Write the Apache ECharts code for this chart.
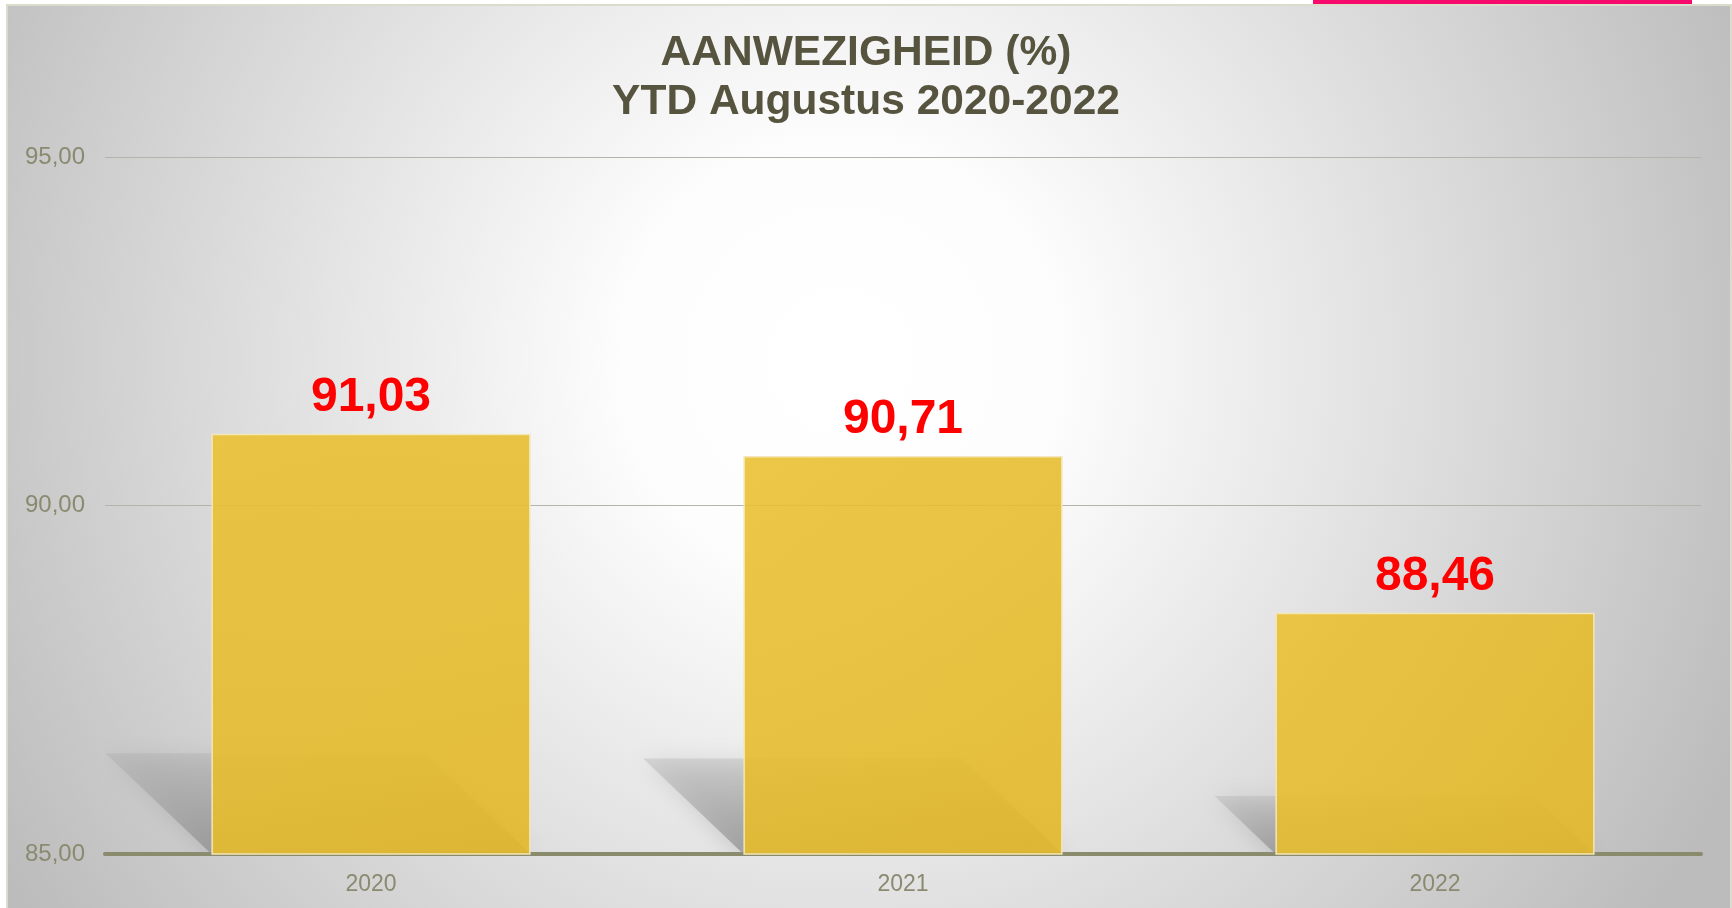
<!DOCTYPE html>
<html>
<head>
<meta charset="utf-8">
<script src="https://cdn.jsdelivr.net/npm/echarts@6/dist/echarts.min.js"></script>
<style>
  html, body { margin: 0; padding: 0; background: #ffffff; }
  #chart { width: 1732px; height: 908px; }
</style>
</head>
<body>
<div id="chart"></div>
<script>
// data
const years = ["2020", "2021", "2022"];
const presence = [91.03, 90.71, 88.46];
const yTicks = [85, 90, 95];

const fmt = (v) => v.toFixed(2).replace(".", ",");
const base = yTicks[0];

const chart = echarts.init(document.getElementById("chart"), null, { renderer: "canvas" });

// floor shadow drawn behind each bar (skewed copy of the bar)
function renderShadow(params, api) {
  const idx = api.value(0);
  const val = api.value(1);
  const size = api.size([1, 0]);
  const barW = size[0] * 0.6;
  const bottom = api.coord([idx, base]);
  const top = api.coord([idx, base + (val - base) * 0.24]);
  const h = bottom[1] - top[1];
  const dx = h * 1.05;
  const l = bottom[0] - barW / 2;
  const r = bottom[0] + barW / 2;
  return {
    type: "polygon",
    shape: {
      points: [
        [l - dx, top[1]],
        [r - dx, top[1]],
        [r, bottom[1]],
        [l, bottom[1]],
      ],
    },
    style: {
      fill: new echarts.graphic.LinearGradient(0, 0, 0, 1, [
        { offset: 0, color: "rgba(165,165,165,0.3)" },
        { offset: 1, color: "rgba(140,140,140,0.7)" },
      ]),
      shadowBlur: 22,
      shadowColor: "rgba(150,150,150,0.7)",
    },
    z2: 0,
  };
}

const option = {
  backgroundColor: "#ffffff",
  graphic: [
    {
      type: "rect",
      z: -10,
      shape: { x: 7, y: 5, width: 1724, height: 905 },
      style: {
        fill: new echarts.graphic.RadialGradient(840, 360, 980, [
          { offset: 0, color: "#ffffff" },
          { offset: 0.22, color: "#fdfdfd" },
          { offset: 0.55, color: "#e2e2e2" },
          { offset: 0.8, color: "#cdcdcd" },
          { offset: 1, color: "#bcbcbc" },
        ], true),
        stroke: "#dcdccc",
        lineWidth: 2,
      },
    },
    {
      type: "rect",
      z: -9,
      shape: { x: 1313, y: 0, width: 379, height: 4 },
      style: { fill: "#f70a6c" },
    },
  ],
  title: {
    text: "AANWEZIGHEID (%)\nYTD Augustus 2020-2022",
    left: "center",
    top: 24,
    textStyle: {
      fontFamily: "Liberation Sans, Arial, sans-serif",
      fontSize: 42.5,
      fontWeight: "bold",
      color: "#56543f",
      lineHeight: 49,
    },
  },
  grid: { left: 105, right: 31, top: 157, bottom: 54, containLabel: false },
  xAxis: {
    type: "category",
    data: years,
    axisLine: { lineStyle: { color: "#8a8a6c", width: 4 } },
    axisTick: { show: false },
    axisLabel: {
      fontFamily: "Liberation Sans, Arial, sans-serif",
      fontSize: 23,
      color: "#8a8a70",
      margin: 19,
    },
  },
  yAxis: {
    type: "value",
    min: 85,
    max: 95,
    interval: 5,
    axisLine: { show: false },
    axisTick: { show: false },
    splitLine: { lineStyle: { color: "#b4b4aa", width: 1 } },
    axisLabel: {
      fontFamily: "Liberation Sans, Arial, sans-serif",
      fontSize: 24,
      color: "#8a8a70",
      margin: 20,
      formatter: (v) => fmt(v),
    },
  },
  series: [
    {
      type: "custom",
      renderItem: renderShadow,
      data: presence.map((v, i) => [i, v]),
      clip: true,
      z: 1,
      silent: true,
    },
    {
      type: "bar",
      data: presence,
      barWidth: "60%",
      z: 2,
      itemStyle: {
        color: new echarts.graphic.LinearGradient(0, 0, 1, 1, [
          { offset: 0, color: "rgba(234,193,52,0.9)" },
          { offset: 1, color: "rgba(227,184,40,0.9)" },
        ]),
        borderColor: "#f3e6b8",
        borderWidth: 1.5,
      },
      label: {
        show: true,
        position: "top",
        distance: 12,
        fontFamily: "Liberation Sans, Arial, sans-serif",
        fontSize: 48,
        fontWeight: "bold",
        color: "#ff0000",
        formatter: (p) => fmt(p.value),
      },
    },
  ],
};

chart.setOption(option);
</script>
</body>
</html>
